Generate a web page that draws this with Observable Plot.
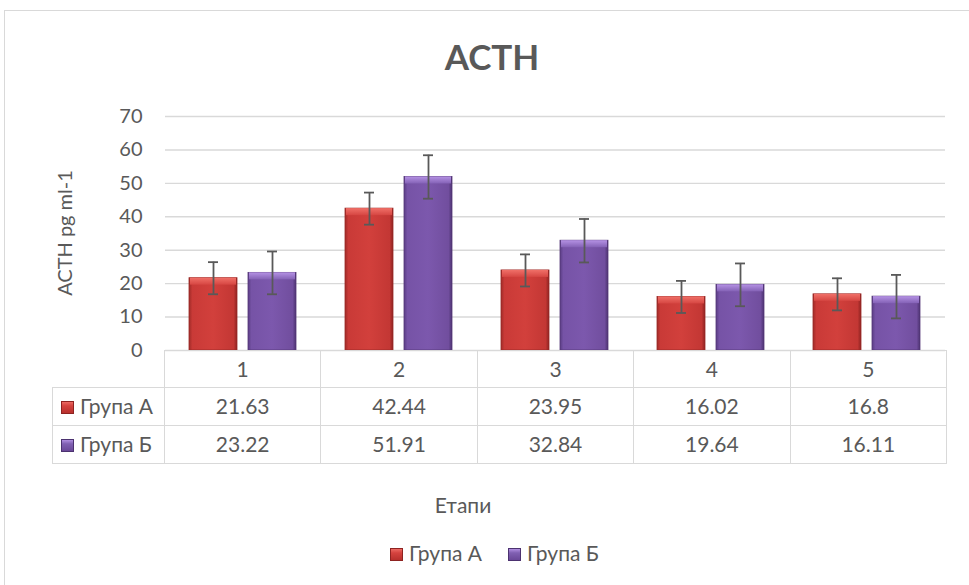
<!DOCTYPE html>
<html>
<head>
<meta charset="utf-8">
<script src="https://cdn.jsdelivr.net/npm/d3@7"></script>
<script src="https://cdn.jsdelivr.net/npm/@observablehq/plot@0.6"></script>
<style>
  html, body { margin: 0; padding: 0; background: #fff; }
  #wrap { position: relative; width: 969px; height: 585px; background: #fff; overflow: hidden; font-family: Lato, "Open Sans", sans-serif; color: #595959; }
  #frame { position: absolute; left: 4px; top: 10px; width: 1000px; height: 600px; border: 1px solid #d9d9d9; box-sizing: border-box; }
  #title { position: absolute; left: 392px; top: 39px; width: 200px; text-align: center; font-size: 35px; font-weight: bold; line-height: 35px; color: #595959; }
  #ylabel { position: absolute; left: -36px; top: 222px; width: 200px; height: 22px; line-height: 22px; text-align: center; font-size: 20px; transform: rotate(-90deg); }
  #chart { position: absolute; left: 0; top: 0; }
  #table { position: absolute; left: 52px; top: 349.5px; border-collapse: collapse; table-layout: fixed; font-size: 21px; color: #595959; }
  #table td { border: 1px solid #d9d9d9; padding: 0; text-align: center; white-space: nowrap; line-height: 24px; }
  #table td.empty { border-top: none; border-left: none; }
  #table td.lab { text-align: left; padding-left: 8px; }
  .key { display: inline-block; width: 13px; height: 13px; vertical-align: 0px; margin-right: 6px; box-sizing: border-box; }
  .keyA { background: linear-gradient(180deg, #ec6a63 0%, #d5433f 35%, #b8302d 100%); border: 1px solid #8e2321; }
  .keyB { background: linear-gradient(180deg, #b08ee0 0%, #8060b2 35%, #6a4898 100%); border: 1px solid #4c3270; }
  #xlabel { position: absolute; left: 363px; top: 493px; width: 200px; text-align: center; font-size: 21px; line-height: 24px; }
  .leg { position: absolute; top: 541px; font-size: 21px; line-height: 24px; white-space: nowrap; }
</style>
</head>
<body>
<div id="wrap">
  <div id="frame"></div>
  <div id="title">ACTH</div>
  <div id="ylabel">ACTH pg ml-1</div>
  <div id="chart"></div>
  <table id="table"></table>
  <div id="xlabel">Етапи</div>
  <div class="leg" id="legA" style="left:390px"></div>
  <div class="leg" id="legB" style="left:508px"></div>
</div>
<script>
// ---- data ----
const stages = ["1", "2", "3", "4", "5"];
const groups = ["Група А", "Група Б"];
const groupA = [21.63, 42.44, 23.95, 16.02, 16.8];
const groupB = [23.22, 51.91, 32.84, 19.64, 16.11];
const errA = [4.8, 4.8, 4.8, 4.8, 4.8];
const errB = [6.4, 6.5, 6.5, 6.4, 6.5];
const yTicks = [0, 10, 20, 30, 40, 50, 60, 70];

const rowsA = stages.map((s, i) => ({stage: s, group: groups[0], value: groupA[i], err: errA[i]}));
const rowsB = stages.map((s, i) => ({stage: s, group: groups[1], value: groupB[i], err: errB[i]}));
const rows = rowsA.concat(rowsB);

const errStroke = "#595959";

const chart = Plot.plot({
  width: 969,
  height: 370,
  marginLeft: 164,
  marginRight: 22.5,
  marginTop: 116,
  marginBottom: 20,
  style: {fontFamily: "Lato, 'Open Sans', sans-serif", fontSize: "20px", color: "#595959", background: "transparent", overflow: "visible"},
  fx: {domain: stages, padding: 0, axis: null, label: null},
  x: {domain: groups, paddingInner: 0.183, paddingOuter: 0.395, axis: null},
  y: {domain: [0, 70], ticks: yTicks, label: null, tickSize: 0, tickPadding: 23},
  marks: [
    Plot.ruleY(yTicks, {stroke: "#d9d9d9", strokeWidth: 1.4}),
    Plot.barY(rowsA, {fx: "stage", x: "group", y: "value", fill: "url(#gradA)", stroke: "#9a2a27", strokeWidth: 0.8}),
    Plot.barY(rowsB, {fx: "stage", x: "group", y: "value", fill: "url(#gradB)", stroke: "#553878", strokeWidth: 0.8}),
    Plot.barY(rowsA, {fx: "stage", x: "group", y1: "value", y2: "value", insetBottom: -7, insetLeft: 1, insetRight: 1, fill: "url(#bevA)"}),
    Plot.barY(rowsB, {fx: "stage", x: "group", y1: "value", y2: "value", insetBottom: -7, insetLeft: 1, insetRight: 1, fill: "url(#bevB)"}),
    Plot.ruleX(rows, {fx: "stage", x: "group", y1: d => d.value - d.err, y2: d => d.value + d.err, stroke: errStroke, strokeWidth: 1.8}),
    Plot.tickY(rows, {fx: "stage", x: "group", y: d => d.value + d.err, insetLeft: 19, insetRight: 19, stroke: errStroke, strokeWidth: 1.8}),
    Plot.tickY(rows, {fx: "stage", x: "group", y: d => d.value - d.err, insetLeft: 19, insetRight: 19, stroke: errStroke, strokeWidth: 1.8})
  ]
});

// gradients
const defs = d3.select(chart).insert("defs", ":first-child");
function hgrad(id, stops) {
  const g = defs.append("linearGradient").attr("id", id).attr("x1", "0").attr("y1", "0").attr("x2", "1").attr("y2", "0");
  stops.forEach(([o, c]) => g.append("stop").attr("offset", o).attr("stop-color", c));
}
function vgrad(id, stops) {
  const g = defs.append("linearGradient").attr("id", id).attr("x1", "0").attr("y1", "0").attr("x2", "0").attr("y2", "1");
  stops.forEach(([o, c]) => g.append("stop").attr("offset", o).attr("stop-color", c));
}
hgrad("gradA", [[0, "#a02b28"], [0.07, "#c93a37"], [0.5, "#d2403c"], [0.93, "#c33734"], [1, "#8e2321"]]);
hgrad("gradB", [[0, "#5a3d84"], [0.07, "#7653a6"], [0.5, "#7c58ad"], [0.93, "#714e9e"], [1, "#4c3270"]]);
vgrad("bevA", [[0, "#f07068"], [1, "#d64642"]]);
vgrad("bevB", [[0, "#b592e4"], [1, "#8462b6"]]);

document.getElementById("chart").appendChild(chart);

// data table
const table = document.getElementById("table");
const colW = 156.4;
let html = "<colgroup><col style='width:112px'>" + stages.map(() => `<col style='width:${colW}px'>`).join("") + "</colgroup>";
html += "<tr style='height:37px'><td class='empty'></td>" + stages.map(s => `<td>${s}</td>`).join("") + "</tr>";
html += `<tr style='height:38px'><td class='lab'><span class='key keyA'></span>${groups[0]}</td>` + groupA.map(v => `<td>${v}</td>`).join("") + "</tr>";
html += `<tr style='height:38px'><td class='lab'><span class='key keyB'></span>${groups[1]}</td>` + groupB.map(v => `<td>${v}</td>`).join("") + "</tr>";
table.innerHTML = html;
table.style.width = (112 + colW * stages.length) + "px";

// legend
document.getElementById("legA").innerHTML = `<span class='key keyA'></span>${groups[0]}`;
document.getElementById("legB").innerHTML = `<span class='key keyB'></span>${groups[1]}`;
</script>
</body>
</html>
